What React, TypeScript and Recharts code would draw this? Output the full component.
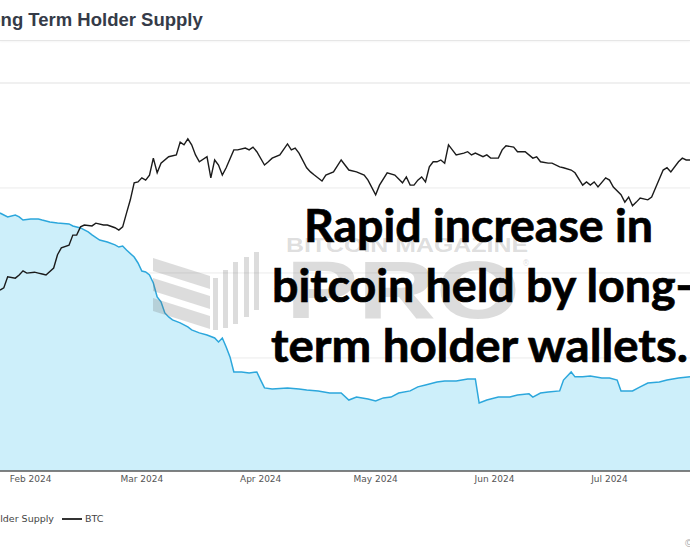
import {
  Area,
  CartesianGrid,
  ComposedChart,
  Line,
  ReferenceLine,
  XAxis,
  YAxis,
} from "recharts";

// days counted from 1 Jan 2024 (day 0)
const monthTicks = [31, 60, 91, 121, 152, 182];
const monthLabels = ["Feb 2024", "Mar 2024", "Apr 2024", "May 2024", "Jun 2024", "Jul 2024"];

const btcDays = [
  23, 24, 25, 27, 28, 29, 30, 32, 33, 34,
  35, 37, 38, 39, 41, 42, 43, 44, 45, 47,
  48, 50, 51, 53, 54, 55, 56, 57, 58, 59,
  60, 61, 62, 63, 64, 65, 67, 69, 70, 71,
  72, 73, 74, 75, 77, 78, 79, 80, 81, 82,
  84, 85, 87, 88, 89, 90, 92, 93, 94, 96,
  98, 99, 100, 101, 103, 104, 105, 107, 108, 110,
  112, 114, 116, 118, 119, 121, 122, 124, 126, 128,
  129, 130, 131, 132, 133, 134, 135, 136, 137, 138,
  139, 140, 141, 142, 144, 145, 146, 147, 149, 150,
  151, 153, 154, 155, 157, 158, 160, 162, 163, 164,
  166, 167, 169, 170, 172, 173, 175, 176, 177, 178,
  179, 181, 182, 183, 185, 186, 187, 188, 189, 190,
  192, 193, 194, 196, 197, 198, 200, 201, 202, 203,
];
// USD
const btcPrice = [
  39500, 40000, 42400, 42100, 42800, 43700, 43200, 43400, 43200, 43000,
  42800, 44300, 47200, 48700, 49300, 51500, 51500, 53300, 53700, 53500,
  54100, 53700, 53700, 53100, 52600, 53300, 56300, 59200, 62900, 63100,
  64000, 63500, 64600, 68300, 65100, 67200, 68600, 69000, 71800, 71200,
  72500, 71200, 69000, 67500, 68600, 64000, 67900, 66800, 64600, 66200,
  70100, 70100, 70500, 70100, 70700, 69700, 66800, 67500, 68300, 69000,
  71400, 70100, 70500, 69400, 66200, 65300, 64600, 63300, 64600, 65300,
  67900, 65700, 65300, 64600, 63500, 60300, 62400, 65100, 64600, 62900,
  64200, 62400, 62400, 63500, 64200, 63100, 66400, 67500, 67500, 67900,
  67200, 71200, 70100, 69000, 69400, 69700, 69000, 69400, 68600, 69000,
  68300, 68300, 70100, 71000, 70700, 69700, 69700, 68300, 68600, 67500,
  67200, 67200, 66400, 66200, 65700, 65100, 62400, 63100, 62400, 63100,
  62000, 64000, 63500, 62000, 60300, 58700, 59800, 57900, 58700, 59600,
  59200, 59800, 61800, 65700, 66200, 65300, 67500, 68300, 67900, 67900,
];

const lthDays = [
  23, 25, 27, 28, 29, 31, 33, 34, 36, 38,
  41, 42, 44, 46, 47, 49, 51, 53, 54, 55,
  56, 58, 59, 60, 61, 62, 63, 64, 65, 66,
  67, 68, 70, 72, 73, 75, 77, 79, 80, 81,
  82, 83, 84, 86, 88, 90, 91, 92, 94, 98,
  101, 103, 106, 109, 110, 112, 114, 116, 119, 121,
  123, 125, 127, 130, 132, 134, 137, 139, 142, 145,
  147, 148, 150, 153, 156, 158, 161, 162, 164, 166,
  169, 170, 172, 173, 175, 177, 180, 182, 184, 185,
  188, 190, 192, 195, 197, 200, 203,
];
// thousand BTC
const lthSupply = [
  14682, 14664, 14673, 14664, 14649, 14654, 14654, 14649, 14640, 14635,
  14631, 14621, 14612, 14593, 14579, 14555, 14546, 14532, 14522, 14527,
  14508, 14475, 14447, 14409, 14405, 14391, 14353, 14287, 14264, 14212,
  14193, 14179, 14165, 14146, 14132, 14118, 14108, 14094, 14075, 14094,
  14052, 14005, 13934, 13934, 13929, 13934, 13896, 13859, 13854, 13859,
  13854, 13849, 13845, 13835, 13835, 13835, 13802, 13816, 13807, 13798,
  13812, 13816, 13835, 13845, 13864, 13873, 13887, 13892, 13892, 13901,
  13901, 13788, 13802, 13816, 13816, 13826, 13831, 13816, 13835, 13840,
  13845, 13896, 13934, 13911, 13911, 13915, 13906, 13906, 13896, 13845,
  13845, 13864, 13882, 13887, 13896, 13906, 13911,
];

const lthGrid = [13600, 14000, 14400, 14800];

const btcData = btcDays.map((day, i) => ({ day, btc: btcPrice[i] }));
const lthData = lthDays.map((day, i) => ({ day, lth: lthSupply[i] }));

const mark = "rgba(110,110,110,0.24)";

export default function App() {
  return (
    <div
      style={{
        position: "absolute",
        left: 0,
        top: 0,
        width: 690,
        height: 550,
        overflow: "hidden",
        background: "#fff",
        fontFamily: "'Liberation Sans', Arial, sans-serif",
      }}
    >
      <div
        style={{
          position: "absolute",
          left: -22,
          top: 11,
          fontSize: 18.5,
          lineHeight: 1,
          fontWeight: 700,
          color: "#353b48",
          whiteSpace: "nowrap",
        }}
      >
        Long Term Holder Supply
      </div>
      <div
        style={{
          position: "absolute",
          left: 0,
          top: 40,
          width: 690,
          height: 1,
          background: "#e6e6e6",
          boxShadow: "0 1px 2px rgba(0,0,0,0.06)",
        }}
      />

      <ComposedChart
        width={690}
        height={550}
        margin={{ top: 83, right: 0, bottom: 49, left: 0 }}
      >
        <CartesianGrid yAxisId="lth" vertical={false} stroke="#ebebeb" />
        <XAxis
          dataKey="day"
          type="number"
          domain={[23, 203]}
          allowDataOverflow
          ticks={monthTicks}
          interval={0}
          tickFormatter={(v) => monthLabels[monthTicks.indexOf(v)]}
          height={30}
          tickSize={0}
          tickMargin={5}
          axisLine={{ stroke: "#5a5a5a", strokeWidth: 1.5 }}
          tick={{ fill: "#555", fontSize: 9, fontFamily: "DejaVu Sans" }}
        />
        <YAxis yAxisId="lth" domain={[13468, 15294]} ticks={lthGrid} hide allowDataOverflow />
        <YAxis yAxisId="btc" orientation="right" domain={[0, 84700]} hide allowDataOverflow />
        <ReferenceLine yAxisId="lth" y={15294} stroke="#ebebeb" />
        <Area
          yAxisId="lth"
          data={lthData}
          dataKey="lth"
          type="linear"
          stroke="#2ca7dc"
          strokeWidth={1.5}
          fill="#cdeffa"
          fillOpacity={1}
          dot={false}
          activeDot={false}
          isAnimationActive={false}
        />
        <Line
          yAxisId="btc"
          data={btcData}
          dataKey="btc"
          type="linear"
          stroke="#1b1b1b"
          strokeWidth={1.4}
          dot={false}
          activeDot={false}
          isAnimationActive={false}
        />
      </ComposedChart>

      <svg
        width={690}
        height={550}
        style={{ position: "absolute", left: 0, top: 0, pointerEvents: "none" }}
      >
        {/* watermark */}
        <polygon points="153,258 210,276 210,289 153,271" fill={mark} />
        <polygon points="153,278 210,296 210,309 153,291" fill={mark} />
        <polygon points="153,298 210,316 210,329 153,311" fill={mark} />
        <rect x={213} y={278} width={5} height={52} fill={mark} />
        <rect x={223} y={270} width={5} height={58} fill={mark} />
        <rect x={233} y={262} width={5} height={62} fill={mark} />
        <rect x={244} y={257} width={5} height={60} fill={mark} />
        <rect x={254} y={252} width={5} height={58} fill={mark} />
        <text
          x={286}
          y={252}
          fontFamily="'Liberation Sans', Arial, sans-serif"
          fontWeight={700}
          fontSize={20}
          fill={mark}
          textLength={242}
          lengthAdjust="spacingAndGlyphs"
        >
          BITCOIN MAGAZINE
        </text>
        <text
          x={286}
          y={318}
          fontFamily="'Liberation Sans', Arial, sans-serif"
          fontWeight={700}
          fontSize={82}
          fill={mark}
          textLength={234}
          lengthAdjust="spacingAndGlyphs"
        >
          PRO
        </text>
        <text x={522} y={266} fontSize={8} fill={mark} fontFamily="DejaVu Sans">
          ®
        </text>

        {/* annotation */}
        <g
          fontFamily="Lato, 'Open Sans', sans-serif"
          fontWeight={700}
          fontSize={46}
          fill="#000"
          stroke="#000"
          strokeWidth={0.7}
        >
          <text x={304} y={242} textLength={349} lengthAdjust="spacingAndGlyphs">
            Rapid increase in
          </text>
          <text x={272} y={302} textLength={421} lengthAdjust="spacingAndGlyphs">
            bitcoin held by long-
          </text>
          <text x={271} y={362} textLength={417} lengthAdjust="spacingAndGlyphs">
            term holder wallets.
          </text>
        </g>
      </svg>

      <div
        style={{
          position: "absolute",
          right: 636,
          top: 513,
          fontSize: 9.5,
          lineHeight: "12px",
          fontFamily: "DejaVu Sans",
          color: "#444",
          whiteSpace: "nowrap",
        }}
      >
        Long Term Holder Supply
      </div>
      <div
        style={{
          position: "absolute",
          left: 62,
          top: 518,
          width: 20,
          height: 1.5,
          background: "#333",
        }}
      />
      <div
        style={{
          position: "absolute",
          left: 85,
          top: 513,
          fontSize: 9.5,
          lineHeight: "12px",
          fontFamily: "DejaVu Sans",
          color: "#444",
          whiteSpace: "nowrap",
        }}
      >
        BTC
      </div>
      <div
        style={{
          position: "absolute",
          left: 685,
          top: 537,
          fontSize: 11,
          lineHeight: "12px",
          color: "#aaa",
        }}
      >
        ©
      </div>
    </div>
  );
}
